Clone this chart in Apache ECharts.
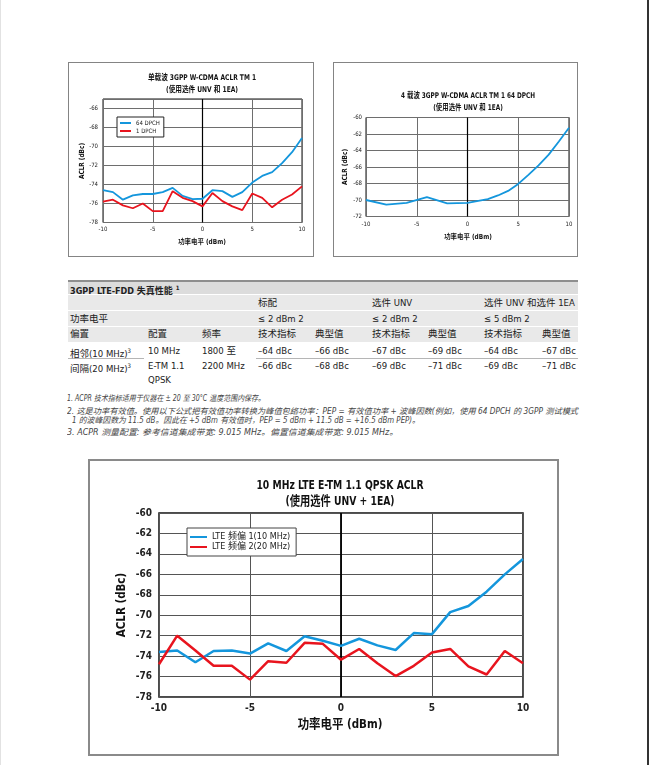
<!DOCTYPE html>
<html><head><meta charset="utf-8">
<script src="https://cdn.jsdelivr.net/npm/echarts@6/dist/echarts.min.js"></script>
<style>
html,body{margin:0;padding:0;background:#fff;width:650px;height:765px;overflow:hidden;position:relative;font-family:'Liberation Sans Narrow','DejaVu Sans Condensed','Noto Sans CJK SC',sans-serif;}
.frame{position:absolute;border:1.5px solid #848484;box-sizing:border-box;pointer-events:none;}
.chart{position:absolute;}
.cell{position:absolute;white-space:nowrap;font-size:9.5px;color:#222;line-height:12px;}
.bg{position:absolute;}
.fn{position:absolute;white-space:nowrap;font-size:8px;font-style:italic;color:#444;line-height:10px;transform-origin:0 50%;}
</style></head><body>
<div class="bg" style="left:0;top:0;width:1px;height:765px;background:#e2e2e2"></div>
<div class="bg" style="left:647px;top:0;width:2px;height:765px;background:#333"></div>

<div id="c1" class="chart" style="left:68px;top:62px;width:246px;height:194px"></div>
<div class="frame" style="left:68px;top:62px;width:246px;height:195px"></div>
<div id="c2" class="chart" style="left:333px;top:62px;width:245px;height:194px"></div>
<div class="frame" style="left:333px;top:62px;width:245px;height:195px"></div>

<div id="tbl"></div>
<div id="notes"></div>

<div id="c3" class="chart" style="left:89px;top:460px;width:470px;height:296px"></div>
<div class="frame" style="left:88px;top:459px;width:471px;height:297px;border-width:2px;border-color:#8a8a8a"></div>

<script>
// ---------- data: chart 1 (single carrier W-CDMA) ----------
const c1Title = ['单载波 3GPP W-CDMA ACLR TM 1', '(使用选件 UNV 和 1EA)'];
const c1X = [-10,-9,-8,-7,-6,-5,-4,-3,-2,-1,0,1,2,3,4,5,6,7,8,9,10];
const c1Names = ['64 DPCH', '1 DPCH'];
const c1Blue = [-74.6,-74.8,-75.6,-75.15,-75.0,-75.0,-74.8,-74.35,-75.2,-75.55,-75.5,-74.6,-74.7,-75.3,-74.8,-73.8,-73.1,-72.7,-71.75,-70.6,-69.1];
const c1Red  = [-75.8,-75.6,-76.2,-76.5,-76.0,-76.8,-76.8,-74.7,-75.4,-75.75,-76.3,-74.9,-75.75,-76.3,-76.7,-74.95,-75.4,-76.4,-75.6,-75.05,-74.2];

// ---------- data: chart 2 (4 carrier) ----------
const c2Title = ['4 载波 3GPP W-CDMA ACLR TM 1 64 DPCH', '(使用选件 UNV 和 1EA)'];
const c2X = [-10,-8,-6,-4,-2,0,2,3,4,5,6,7,8,9,10];
const c2Blue = [-70.0,-70.55,-70.35,-69.65,-70.4,-70.35,-69.9,-69.45,-68.9,-68.05,-66.95,-65.8,-64.5,-62.9,-61.25];

// ---------- data: chart 3 (LTE) ----------
const c3Title = ['10 MHz LTE E-TM 1.1 QPSK ACLR', '(使用选件 UNV + 1EA)'];
const c3X = [-10,-9,-8,-7,-6,-5,-4,-3,-2,-1,0,1,2,3,4,5,6,7,8,9,10];
const c3Names = ['LTE 频偏 1(10 MHz)', 'LTE 频偏 2(20 MHz)'];
const c3Blue = [-73.6,-73.45,-74.6,-73.5,-73.45,-73.75,-72.75,-73.5,-72.05,-72.5,-73.0,-72.3,-72.95,-73.4,-71.75,-71.85,-69.7,-69.1,-67.7,-66.0,-64.5];
const c3Red  = [-74.8,-72.0,-73.45,-74.95,-74.95,-76.3,-74.5,-74.65,-72.7,-72.8,-74.35,-73.3,-74.7,-75.95,-74.95,-73.65,-73.3,-75.0,-75.8,-73.5,-74.7];

const xName = '功率电平 (dBm)';
const yName = 'ACLR (dBc)';

// ---------- data: table ----------
const tblTitle = '3GPP LTE-FDD 失真性能';
const groupNames = ['标配', '选件 UNV', '选件 UNV 和选件 1EA'];
const powerLabel = '功率电平';
const powerLevels = ['≤ 2 dBm 2', '≤ 2 dBm 2', '≤ 5 dBm 2'];
const colHeads = ['偏置','配置','频率','技术指标','典型值','技术指标','典型值','技术指标','典型值'];
const offsetNames = ['相邻(10 MHz)', '间隔(20 MHz)'];
const configLines = ['10 MHz', 'E-TM 1.1', 'QPSK'];
const freqLines = ['1800 至', '2200 MHz'];
const adjVals = [-64,-66,-67,-69,-64,-67];
const altVals = [-66,-68,-69,-71,-69,-71];

// ---------- data: footnotes ----------
const notes = [
  '1. ACPR 技术指标适用于仪器在 ± 20 至 30°C 温度范围内保存。',
  '2. 这是功率有效值。使用以下公式把有效值功率转换为峰值包络功率：PEP = 有效值功率 + 波峰因数(例如，使用 64 DPCH 的 3GPP 测试模式',
  '1 的波峰因数为 11.5 dB。因此在 +5 dBm 有效值时，PEP = 5 dBm + 11.5 dB = +16.5 dBm PEP)。',
  '3. ACPR 测量配置: 参考信道集成带宽: 9.015 MHz。偏置信道集成带宽: 9.015 MHz。'
];

const FONT = "'Liberation Sans Narrow','DejaVu Sans Condensed','Noto Sans CJK SC',sans-serif";
const BLUE = '#1496dc', RED = '#e8141e';

function zip(xs, ys){ return xs.map((x,i)=>[x, ys[i]]); }

function buildChart(id, o){
  const chart = echarts.init(document.getElementById(id));
  const series = o.series.map((s, i) => {
    const r = {name:s.name, type:'line', data:zip(s.x, s.y), symbol:'none', smooth:false,
      lineStyle:{color:s.color, width:o.lw}, itemStyle:{color:s.color}, z:5, animation:false};
    if (i === 0) {
      r.markLine = {silent:true, symbol:'none', label:{show:false}, animation:false,
        lineStyle:{color:'#000', width:o.zw, type:'solid'}, data:[{xAxis:0}]};
    }
    return r;
  });
  const texts = [];
  o.title.forEach((t, i) => texts.push({t:t, x:o.tx, y:o.ty[i], f:o.tf, sx:o.tsx, r:0}));
  texts.push({t:xName, x:o.xn[0], y:o.xn[1], f:o.nf, sx:o.nsx, r:0});
  texts.push({t:yName, x:o.yn[0], y:o.yn[1], f:o.nf, sx:o.nsx, r:Math.PI/2});
  const opt = {
    animation:false,
    textStyle:{fontFamily:FONT},
    grid:{left:o.grid[0], top:o.grid[1], width:o.grid[2], height:o.grid[3], show:true, borderColor:'#111', borderWidth:o.bw, containLabel:false},
    xAxis:{type:'value', min:-10, max:10, interval:5,
      axisLine:{show:false}, axisTick:{show:false},
      splitLine:{show:true, lineStyle:{color:o.gc, width:1}},
      axisLabel:{fontSize:o.lf, color:'#222', margin:o.xm, fontWeight:o.lfw, fontFamily:FONT}},
    yAxis:{type:'value', min:o.ymin, max:o.ymax, interval:2,
      axisLine:{show:false}, axisTick:{show:false},
      splitLine:{show:true, lineStyle:{color:o.gc, width:1}},
      axisLabel:{fontSize:o.lf, color:'#222', margin:o.ym, fontWeight:o.lfw, fontFamily:FONT, showMaxLabel:o.showMax}},
    graphic:texts.map(t => ({type:'text', silent:true, x:t.x, y:t.y, rotation:t.r, scaleX:t.sx,
      style:{text:t.t, x:0, y:0, textAlign:'center', textVerticalAlign:'middle',
        font:'bold ' + t.f + 'px ' + FONT, fill:'#111'}})),
    series:series
  };
  if (o.legend) opt.legend = o.legend;
  chart.setOption(opt);
}

// Chart 1
buildChart('c1', {
  grid:[35, 37, 199, 123.5], bw:1, gc:'#6e6e6e', lw:1.8, zw:1.2,
  ymin:-78, ymax:-65, showMax:false,
  lf:6, lfw:'normal', xm:4, ym:5, nf:7, nsx:0.92,
  xn:[134, 180], yn:[14, 99],
  title:c1Title, tx:134, ty:[16, 28], tf:7.8, tsx:0.85,
  legend:{left:49, top:55, orient:'vertical', backgroundColor:'#fff', borderColor:'#222', borderWidth:1,
    padding:[3,4,3,3], itemGap:2, itemWidth:11, itemHeight:2, icon:'rect',
    textStyle:{fontSize:6, color:'#222', fontFamily:FONT}, data:c1Names},
  series:[{name:c1Names[0], x:c1X, y:c1Blue, color:BLUE}, {name:c1Names[1], x:c1X, y:c1Red, color:RED}]
});

// Chart 2
buildChart('c2', {
  grid:[33, 55.5, 203, 99], bw:1, gc:'#6e6e6e', lw:1.8, zw:1.2,
  ymin:-72, ymax:-60, showMax:true,
  lf:6, lfw:'normal', xm:5, ym:4, nf:7, nsx:0.92,
  xn:[135, 175.5], yn:[12, 105],
  title:c2Title, tx:135, ty:[34, 45.5], tf:7.8, tsx:0.82,
  series:[{name:'64 DPCH', x:c2X, y:c2Blue, color:BLUE}]
});

// Chart 3
buildChart('c3', {
  grid:[70, 53, 364, 184], bw:1.5, gc:'#555', lw:2.5, zw:1.8,
  ymin:-78, ymax:-60, showMax:true,
  lf:10, lfw:'bold', xm:6, ym:7, nf:13, nsx:0.88,
  xn:[251, 265], yn:[33, 145],
  title:c3Title, tx:251, ty:[26, 42], tf:13, tsx:0.79,
  legend:{left:98, top:68, orient:'vertical', backgroundColor:'#fff', borderColor:'#444', borderWidth:1,
    padding:[4,6,4,3], itemGap:0, itemWidth:17, itemHeight:2, icon:'rect',
    textStyle:{fontSize:9, color:'#222', fontFamily:FONT, lineHeight:10}, data:c3Names},
  series:[{name:c3Names[0], x:c3X, y:c3Blue, color:BLUE}, {name:c3Names[1], x:c3X, y:c3Red, color:RED}]
});

// ---------- table ----------
(function(){
  const root = document.getElementById('tbl');
  function box(l,t,w,h,c){ const d=document.createElement('div'); d.className='bg';
    d.style.cssText='left:'+l+'px;top:'+t+'px;width:'+w+'px;height:'+h+'px;background:'+c; root.appendChild(d); }
  function txt(x,yc,s,extra){ const d=document.createElement('div'); d.className='cell';
    d.style.left=x+'px'; d.style.top=(yc-6)+'px'; d.innerHTML=s; if(extra) d.style.cssText+=extra; root.appendChild(d); }
  const L=68, W=510;
  box(L,280,W,2,'#8e8e8e');
  box(L,282,W,12,'#dcdcdc');
  box(L,295,W,15,'#e9e9e9');
  box(L,311,W,15,'#e9e9e9');
  box(L,327,W,15,'#e9e9e9');
  box(L,358,76,1,'#b5b5b5');
  box(256,358,322,1,'#b5b5b5');
  const colX=[70,148,202,258,315,372,428,484,542];
  const fmt = v => '–' + Math.abs(v) + ' dBc';
  txt(70,288,tblTitle+' <sup style="font-size:6px">1</sup>','font-weight:bold;font-size:9px');
  groupNames.forEach((g,i)=>txt(colX[3+2*i],303,g));
  txt(70,319,powerLabel);
  powerLevels.forEach((p,i)=>txt(colX[3+2*i],319,p));
  colHeads.forEach((h,i)=>txt(colX[i],334,h));
  txt(70,351,offsetNames[0]+'<sup style="font-size:6px">3</sup>');
  txt(70,366,offsetNames[1]+'<sup style="font-size:6px">3</sup>');
  configLines.forEach((c,i)=>txt(148,351+i*14.5,c));
  freqLines.forEach((c,i)=>txt(202,351+i*15,c));
  adjVals.forEach((v,i)=>txt(colX[3+i],351,fmt(v)));
  altVals.forEach((v,i)=>txt(colX[3+i],366,fmt(v)));
})();

// ---------- footnotes ----------
(function(){
  const root = document.getElementById('notes');
  const ys=[399,411.5,421,433], xs=[67,67,72,67], ends=[265,578,420,398];
  notes.forEach((n,i)=>{ const d=document.createElement('div'); d.className='fn';
    d.style.left=xs[i]+'px'; d.style.top=(ys[i]-5)+'px'; d.textContent=n; root.appendChild(d);
    const w = d.getBoundingClientRect().width;
    if (w > 0) d.style.transform = 'scaleX(' + ((ends[i]-xs[i])/w).toFixed(3) + ')';
  });
})();
</script>
</body></html>
